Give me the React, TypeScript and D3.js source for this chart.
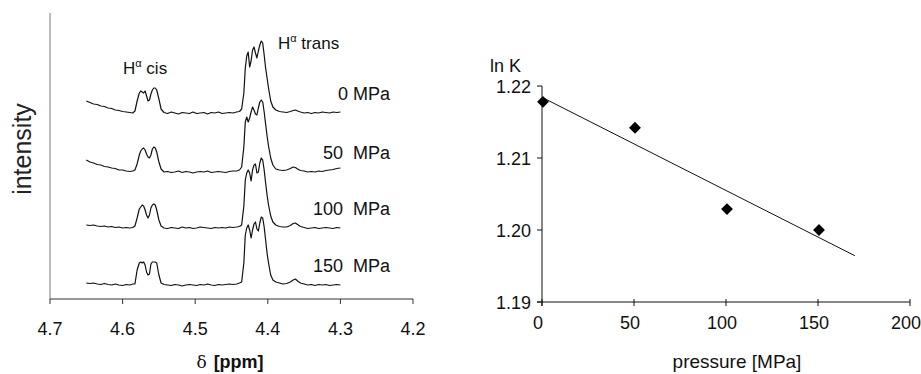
import React from 'react';
import * as d3 from 'd3';

// ---------- Left panel: stacked 1H NMR spectra ----------
const ppmGrid = [
  4.650, 4.645, 4.640, 4.635, 4.630, 4.625, 4.620, 4.615, 4.610, 4.605, 4.600, 4.595, 4.590, 4.586,
  4.583, 4.580, 4.577, 4.575, 4.573, 4.571, 4.569, 4.567, 4.565, 4.563, 4.561, 4.559, 4.557, 4.555, 4.553, 4.550, 4.547,
  4.543, 4.538, 4.533, 4.528, 4.523, 4.518, 4.513, 4.508, 4.503, 4.498, 4.493, 4.488, 4.483, 4.478, 4.473, 4.468, 4.463, 4.458, 4.453, 4.448, 4.443, 4.439,
  4.436, 4.433, 4.431, 4.429, 4.427, 4.425, 4.423, 4.421, 4.419, 4.417, 4.415, 4.413, 4.411, 4.409, 4.407, 4.405, 4.403, 4.401, 4.399, 4.396, 4.393,
  4.389, 4.384, 4.379, 4.374, 4.369, 4.365, 4.362, 4.359, 4.355, 4.350, 4.345, 4.340, 4.335, 4.330, 4.325, 4.320, 4.315, 4.310, 4.305, 4.300,
];

const spectrum0MPa = [
  12, 10.5, 9, 8.5, 7, 6.5, 5, 4.5, 3, 2.5, 1.5, 1, 0.5, 0,
  2, 12, 20, 22, 21, 20, 22, 17, 12, 13, 19, 23, 25, 25, 23, 14, 4,
  0.5, -0.5, 1, 0, -1, 0.5, 0, -0.5, 1, -0.5, 0, 0.5, -1, 0.5, 0, 1, -0.5, 0, 0.5, 0, 1, 1.5,
  4, 20, 45, 57, 61, 46, 52, 63, 66, 60, 55, 62, 68, 72, 70, 58, 45, 35, 25, 12, 6,
  3, 1.5, 1, 0.5, 1.5, 2.5, 3, 2, 1, 0, 0.5, -0.5, 0.5, 0, 1, 0.5, 0, 1, 0.5, 1,
];
const spectrum50MPa = [
  12, 10, 9, 7.5, 7, 5.5, 5, 4, 3.5, 2, 2, 1, 0.5, 1,
  2, 8, 17, 21, 23, 24, 22, 18, 15, 14, 17, 23, 25, 24, 20, 10, 3,
  0, 0.5, -0.5, 0, 1, -0.5, 0.5, 0, -1, 0, 0.5, 0, 1, -0.5, 0, 0.5, 0, -0.5, 0.5, 1, 1, 2,
  5, 25, 50, 55, 50, 54, 60, 65, 62, 58, 57, 64, 70, 72, 70, 60, 48, 36, 26, 14, 7,
  3, 2, 1.5, 2, 3.5, 5, 4.5, 3, 1.5, 1, 0, 0.5, 0, 1, 0.5, 1.5, 2, 2.5, 3.5, 4,
];
const spectrum100MPa = [
  3, 2.5, 3, 2, 1.5, 2, 1, 1.5, 0.5, 1, 0, 0.5, 0, 0.5,
  2, 10, 19, 21, 23, 22, 18, 13, 10, 13, 20, 23, 24, 23, 18, 8, 2,
  0, -0.5, 0.5, 0, -0.5, 1, 0, 0.5, -0.5, 0, 1, 0.5, 0, -0.5, 0.5, 0, 0.5, 0, 1, 0.5, 1, 1.5,
  3, 22, 48, 55, 58, 55, 47, 58, 63, 64, 55, 56, 65, 70, 68, 58, 45, 33, 23, 12, 6,
  3, 1.5, 1, 1, 2.5, 4.5, 5, 3.5, 1.5, 0.5, -0.5, 0, 0.5, -0.5, 0, 0.5, 0, -0.5, 0.5, 0,
];
const spectrum150MPa = [
  2, 1.5, 2, 1, 0.5, 1.5, 0.5, 0, 1, 0, -0.5, 0.5, 0, 1,
  1, 15, 22, 23, 22, 23, 20, 13, 10, 11, 21, 23, 23, 23, 22, 10, 2,
  0.5, 0, -0.5, 0.5, 0, -1, 0, 0.5, 0, -0.5, 0.5, 0, 1, 0, -0.5, 0.5, 0, 0.5, 1, 0.5, 1, 2,
  3, 22, 50, 57, 60, 55, 47, 55, 61, 63, 56, 54, 62, 68, 67, 58, 45, 32, 22, 10, 5,
  3, 2, 1, 1.5, 3, 5, 6, 4, 2, 1, 0, 0.5, -0.5, 0.5, 0, 0.5, -0.5, 0, 0.5, 0,
];
const spectra = [spectrum0MPa, spectrum50MPa, spectrum100MPa, spectrum150MPa];
const spectrumOffsets = [186, 127, 71, 14];
const spectrumLabels = ['0 MPa', '50  MPa', '100  MPa', '150  MPa'];
const ppmTicks = [4.7, 4.6, 4.5, 4.4, 4.3, 4.2];

// ---------- Right panel: ln K vs pressure ----------
const pressure = [0, 50, 100, 150];
const lnK = [1.2178, 1.2142, 1.2029, 1.2];
const pressureTicks = [0, 50, 100, 150, 200];
const lnKTicks = [1.19, 1.2, 1.21, 1.22];
const fitPressureRange = [0, 170];

const FONT = '"Liberation Sans", Arial, Helvetica, sans-serif';

export default function App() {
  // left scales
  const xL = d3.scaleLinear().domain([4.7, 4.2]).range([50, 413]);
  const yL = d3.scaleLinear().domain([0, 286]).range([299, 13]);
  const line = d3
    .line<number>()
    .x((_, i) => xL(ppmGrid[i]))
    .y((d) => d);

  // right scales
  const xR = d3.scaleLinear().domain([0, 200]).range([542, 910]);
  const yR = d3.scaleLinear().domain([1.19, 1.22]).range([302, 86]);

  // least-squares fit
  const mx = d3.mean(pressure)!;
  const my = d3.mean(lnK)!;
  const sxy = d3.sum(pressure.map((p, i) => (p - mx) * (lnK[i] - my)));
  const sxx = d3.sum(pressure.map((p) => (p - mx) * (p - mx)));
  const slope = sxy / sxx;
  const intercept = my - slope * mx;
  const fit = (p: number) => intercept + slope * p;

  const diamond = d3.symbol().type(d3.symbolSquare).size(70)();

  return (
    <svg
      width={921}
      height={374}
      style={{ position: 'absolute', left: 0, top: 0, background: '#fff' }}
      fontFamily={FONT}
    >
      <rect x={0} y={0} width={921} height={374} fill="#fff" />

      {/* ---- Left panel ---- */}
      <line x1={xL(4.7)} x2={xL(4.7)} y1={yL(286)} y2={yL(0)} stroke="#777" strokeWidth={1} />
      <line x1={xL(4.7)} x2={xL(4.2)} y1={yL(0)} y2={yL(0)} stroke="#333" strokeWidth={1} />
      {ppmTicks.map((t) => (
        <g key={t}>
          <line x1={xL(t)} x2={xL(t)} y1={yL(0)} y2={yL(0) + 5} stroke="#333" />
          <text x={xL(t)} y={335} fontSize={18} textAnchor="middle" fill="#111">
            {t.toFixed(1)}
          </text>
        </g>
      ))}
      <text
        transform={`translate(31,149) rotate(-90)`}
        fontSize={25}
        textAnchor="middle"
        fill="#222"
      >
        intensity
      </text>
      <text x={230} y={368} textAnchor="middle" fill="#111">
        <tspan fontFamily='"DejaVu Serif", serif' fontSize={17}>δ</tspan>
        <tspan fontSize={18} fontWeight="bold" dx={7}>[ppm]</tspan>
      </text>

      {spectra.map((s, k) => (
        <path
          key={k}
          d={line(s.map((v) => yL(v + spectrumOffsets[k]))) || ''}
          fill="none"
          stroke="#111"
          strokeWidth={1.2}
          strokeLinejoin="round"
        />
      ))}
      {spectrumLabels.map((lab, k) => (
        <text
          key={lab}
          x={390}
          y={yL(spectrumOffsets[k]) - 13}
          fontSize={18}
          textAnchor="end"
          fill="#111"
          style={{ whiteSpace: 'pre' }}
        >
          {lab}
        </text>
      ))}
      <text x={123} y={74} fontSize={17} fill="#111">
        H<tspan fontSize={11} dy={-7}>α</tspan>
        <tspan dy={7}> cis</tspan>
      </text>
      <text x={278} y={49} fontSize={17} fill="#111">
        H<tspan fontSize={11} dy={-7}>α</tspan>
        <tspan dy={7}> trans</tspan>
      </text>

      {/* ---- Right panel ---- */}
      <line x1={xR(0)} x2={xR(0)} y1={yR(1.22)} y2={yR(1.19) + 4} stroke="#111" />
      <line x1={xR(0) - 5} x2={xR(200)} y1={yR(1.19)} y2={yR(1.19)} stroke="#111" />
      {lnKTicks.map((t) => (
        <g key={t}>
          <line x1={xR(0) - 5} x2={xR(0)} y1={yR(t)} y2={yR(t)} stroke="#111" />
          <text x={531} y={yR(t) + 7} fontSize={18} textAnchor="end" fill="#111">
            {t.toFixed(2)}
          </text>
        </g>
      ))}
      {pressureTicks.map((t) => (
        <g key={t}>
          <line x1={xR(t)} x2={xR(t)} y1={yR(1.19) - 3} y2={yR(1.19) + 4} stroke="#111" />
          <text x={xR(t) - 4} y={329} fontSize={18} textAnchor="middle" fill="#111">
            {t}
          </text>
        </g>
      ))}
      <text x={490} y={72} fontSize={18} fill="#111">
        ln K
      </text>
      <text x={737} y={368} fontSize={19} textAnchor="middle" fill="#111">
        pressure [MPa]
      </text>
      <line
        x1={xR(fitPressureRange[0])}
        y1={yR(fit(fitPressureRange[0]))}
        x2={xR(fitPressureRange[1])}
        y2={yR(fit(fitPressureRange[1]))}
        stroke="#111"
        strokeWidth={1}
      />
      {pressure.map((p, i) => (
        <path
          key={p}
          d={diamond || ''}
          transform={`translate(${xR(p) + 1},${yR(lnK[i])}) rotate(45)`}
          fill="#000"
        />
      ))}
    </svg>
  );
}
